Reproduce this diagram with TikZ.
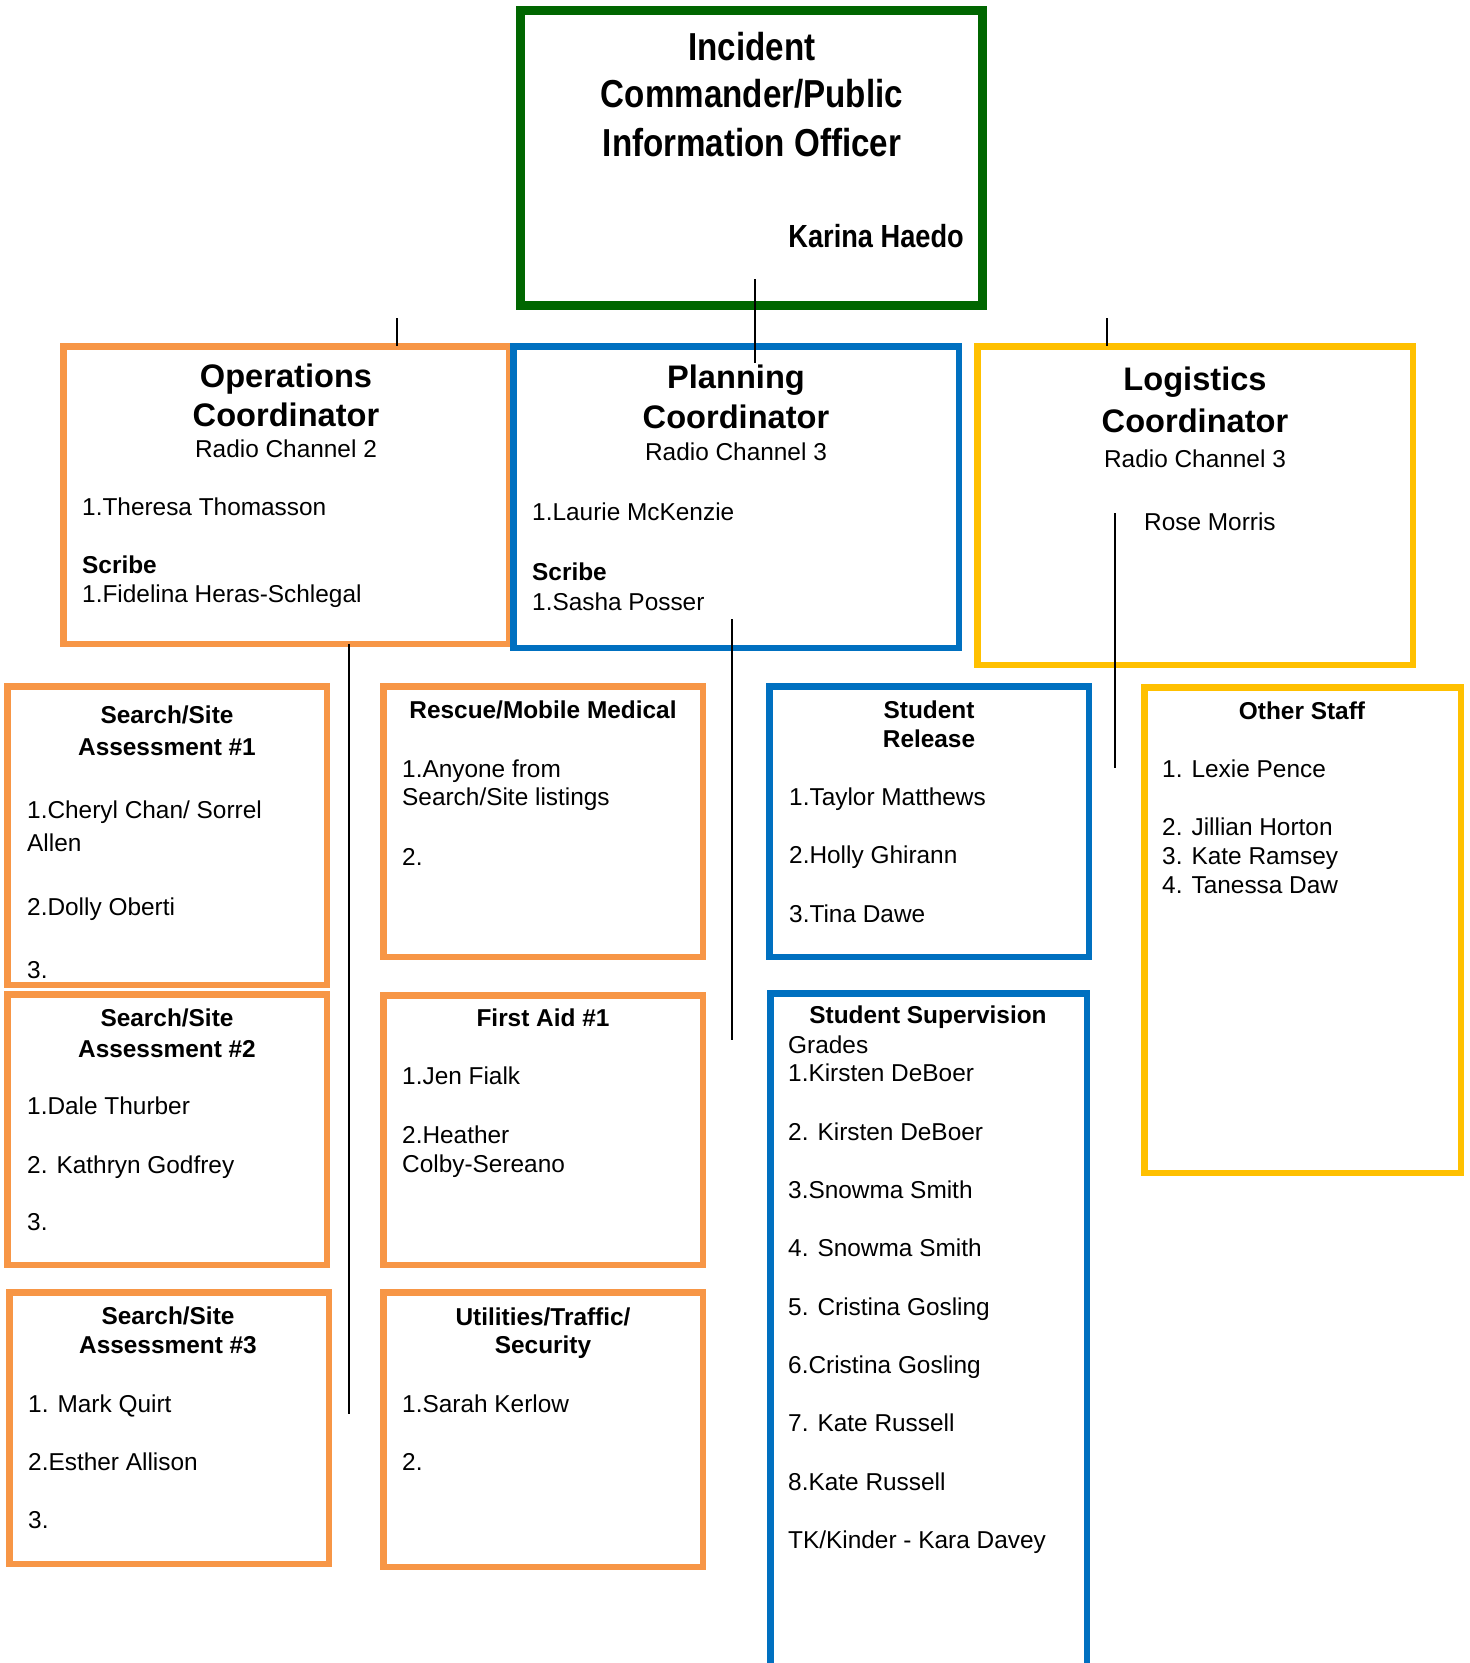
\documentclass[tikz,border=0pt]{standalone}
\usepackage{fontspec}
\setmainfont{Liberation Sans}
\newfontfamily\narrowfont[FakeStretch=0.85]{Liberation Sans}

\definecolor{icgreen}{RGB}{0,102,0}
\definecolor{opsorange}{RGB}{247,150,70}
\definecolor{planblue}{RGB}{0,112,192}
\definecolor{logyellow}{RGB}{255,192,0}

% unit box drawn from its outer edges: name, style, x1, y1, x2, y2, line width
\newcommand\orgbox[7]{%
  \node[#2, line width=#7pt,
        minimum width={#5-#3-#7}, minimum height={#6-#4-#7}]
        (#1) at ({(#3+#5)/2},{(#4+#6)/2}) {};}

\tikzset{
  unitbox/.style={draw, rectangle, inner sep=0pt, outer sep=0pt},
  opsbox/.style={unitbox, draw=opsorange},
  planbox/.style={unitbox, draw=planblue},
  logbox/.style={unitbox, draw=logyellow},
  cmdbox/.style={unitbox, draw=icgreen},
  body/.style={inner sep=0pt, anchor=base west, font=\fontsize{24.4}{28}\selectfont},
  bodyhead/.style={inner sep=0pt, anchor=base, font=\fontsize{24.4}{28}\selectfont\bfseries},
  bodybold/.style={body, font=\fontsize{24.4}{28}\selectfont\bfseries},
  chan/.style={inner sep=0pt, anchor=base, font=\fontsize{24.4}{28}\selectfont},
  coordhead/.style={inner sep=0pt, anchor=base, font=\fontsize{32.6}{39}\selectfont\bfseries},
  cmdhead/.style={inner sep=0pt, anchor=base, font=\narrowfont\fontsize{39}{48}\selectfont\bfseries},
  link/.style={draw=black, line width=2pt}
}

\begin{document}
\begin{tikzpicture}[x=1pt, y=-1pt]
\useasboundingbox (0,0) rectangle (1470,1663);
\fill[white] (0,0) rectangle (1470,1663);

% ---- boxes ----
\orgbox{ic}{cmdbox}{516}{6}{987}{310}{9}
\orgbox{ops}{opsbox}{60}{343}{512}{647}{6.5}
\orgbox{plan}{planbox}{510}{343}{962}{651}{6.5}
\orgbox{logi}{logbox}{974}{343}{1416}{668}{6.5}

\orgbox{srchA}{opsbox}{4}{683}{330}{988}{6.5}
\orgbox{srchB}{opsbox}{4}{991}{330}{1268}{6.5}
\orgbox{srchC}{opsbox}{6}{1289}{332}{1567}{6.5}
\orgbox{rescue}{opsbox}{380}{683}{706}{960}{6.5}
\orgbox{aid}{opsbox}{380}{992}{706}{1268}{6.5}
\orgbox{util}{opsbox}{380}{1289}{706}{1570}{6.5}
\orgbox{release}{planbox}{766}{683}{1092}{960}{6.5}
\orgbox{superv}{planbox}{767}{990}{1090}{1700}{6.5}
\orgbox{staff}{logbox}{1141}{684}{1464}{1176}{6.5}

% ---- connectors ----
\coordinate (icdrop) at (755,279);
\coordinate (plantop) at (755,363);
\draw[link] (icdrop) -- (plantop);
\coordinate (opsstub) at (397,318);
\draw[link] (opsstub) -- (opsstub |- ops.north);
\coordinate (logstub) at (1107,318);
\draw[link] (logstub) -- (logstub |- logi.north);
\coordinate (opsline) at (349,1414);
\draw[link] (opsline |- ops.south) -- (opsline);
\coordinate (planA) at (732,619);
\coordinate (planB) at (732,1040);
\draw[link] (planA) -- (planB);
\coordinate (logA) at (1115,513);
\coordinate (logB) at (1115,768);
\draw[link] (logA) -- (logB);

% ---- incident commander ----
\node[cmdhead] (ict1) at (752,60) {Incident};
\node[cmdhead] (ict2) at (752,107) {Commander/Public};
\node[cmdhead] (ict3) at (752,156) {Information Officer};
\node[cmdhead, anchor=base east, font=\narrowfont\fontsize{32}{38}\selectfont\bfseries] (icname) at (964,247) {Karina Haedo};

% ---- operations ----
\node[coordhead] (opst1) at (286,387) {Operations};
\node[coordhead] (opst2) at (286,426) {Coordinator};
\node[chan] (opsch) at (286,457) {Radio Channel 2};
\node[body] (opsn1) at (82,515) {1.Theresa Thomasson};
\node[bodybold] (opssc) at (82,573) {Scribe};
\node[body] (opsn2) at (82,602) {1.Fidelina Heras-Schlegal};

% ---- planning ----
\node[coordhead] (plant1) at (736,388) {Planning};
\node[coordhead] (plant2) at (736,428) {Coordinator};
\node[chan] (planch) at (736,460) {Radio Channel 3};
\node[body] (plann1) at (532,520) {1.Laurie McKenzie};
\node[bodybold] (plansc) at (532,580) {Scribe};
\node[body] (plann2) at (532,610) {1.Sasha Posser};

% ---- logistics ----
\node[coordhead] (logt1) at (1195,390) {Logistics};
\node[coordhead] (logt2) at (1195,432) {Coordinator};
\node[chan] (logch) at (1195,467) {Radio Channel 3};
\node[body] (logn1) at (1144,530) {Rose Morris};

% ---- search / site assessment #1 ----
\node[bodyhead] (sat1) at (167,723) {Search/Site};
\node[bodyhead] (sat2) at (167,755) {Assessment \#1};
\node[body] (san1) at (27,818) {1.Cheryl Chan/ Sorrel};
\node[body] (san1b) at (27,851) {Allen};
\node[body] (san2) at (27,915) {2.Dolly Oberti};
\node[body] (san3) at (27,978) {3.};

% ---- search / site assessment #2 ----
\node[bodyhead] (sbt1) at (167,1026) {Search/Site};
\node[bodyhead] (sbt2) at (167,1057) {Assessment \#2};
\node[body] (sbn1) at (27,1114) {1.Dale Thurber};
\node[body] (sbn2) at (27,1173) {2. Kathryn Godfrey};
\node[body] (sbn3) at (27,1230) {3.};

% ---- search / site assessment #3 ----
\node[bodyhead] (sct1) at (168,1324) {Search/Site};
\node[bodyhead] (sct2) at (168,1353) {Assessment \#3};
\node[body] (scn1) at (28,1412) {1. Mark Quirt};
\node[body] (scn2) at (28,1470) {2.Esther Allison};
\node[body] (scn3) at (28,1528) {3.};

% ---- rescue / mobile medical ----
\node[bodyhead] (rst1) at (543,718) {Rescue/Mobile Medical};
\node[body] (rsn1) at (402,777) {1.Anyone from};
\node[body] (rsn1b) at (402,805) {Search/Site listings};
\node[body] (rsn2) at (402,865) {2.};

% ---- first aid ----
\node[bodyhead] (fat1) at (543,1026) {First Aid \#1};
\node[body] (fan1) at (402,1084) {1.Jen Fialk};
\node[body] (fan2) at (402,1143) {2.Heather};
\node[body] (fan2b) at (402,1172) {Colby-Sereano};

% ---- utilities / traffic / security ----
\node[bodyhead] (utt1) at (543,1325) {Utilities/Traffic/};
\node[bodyhead] (utt2) at (543,1353) {Security};
\node[body] (utn1) at (402,1412) {1.Sarah Kerlow};
\node[body] (utn2) at (402,1470) {2.};

% ---- student release ----
\node[bodyhead] (srt1) at (929,718) {Student};
\node[bodyhead] (srt2) at (929,747) {Release};
\node[body] (srn1) at (789,805) {1.Taylor Matthews};
\node[body] (srn2) at (789,863) {2.Holly Ghirann};
\node[body] (srn3) at (789,922) {3.Tina Dawe};

% ---- student supervision ----
\node[bodyhead] (sst1) at (928,1023) {Student Supervision};
\node[body] (ssg) at (788,1053) {Grades};
\node[body] (ssn1) at (788,1081) {1.Kirsten DeBoer};
\node[body] (ssn2) at (788,1140) {2. Kirsten DeBoer};
\node[body] (ssn3) at (788,1198) {3.Snowma Smith};
\node[body] (ssn4) at (788,1256) {4. Snowma Smith};
\node[body] (ssn5) at (788,1315) {5. Cristina Gosling};
\node[body] (ssn6) at (788,1373) {6.Cristina Gosling};
\node[body] (ssn7) at (788,1431) {7. Kate Russell};
\node[body] (ssn8) at (788,1490) {8.Kate Russell};
\node[body] (ssn9) at (788,1548) {TK/Kinder - Kara Davey};

% ---- other staff ----
\node[bodyhead] (ost1) at (1302,719) {Other Staff};
\node[body] (osn1) at (1162,777) {1. Lexie Pence};
\node[body] (osn2) at (1162,835) {2. Jillian Horton};
\node[body] (osn3) at (1162,864) {3. Kate Ramsey};
\node[body] (osn4) at (1162,893) {4. Tanessa Daw};
\end{tikzpicture}
\end{document}
